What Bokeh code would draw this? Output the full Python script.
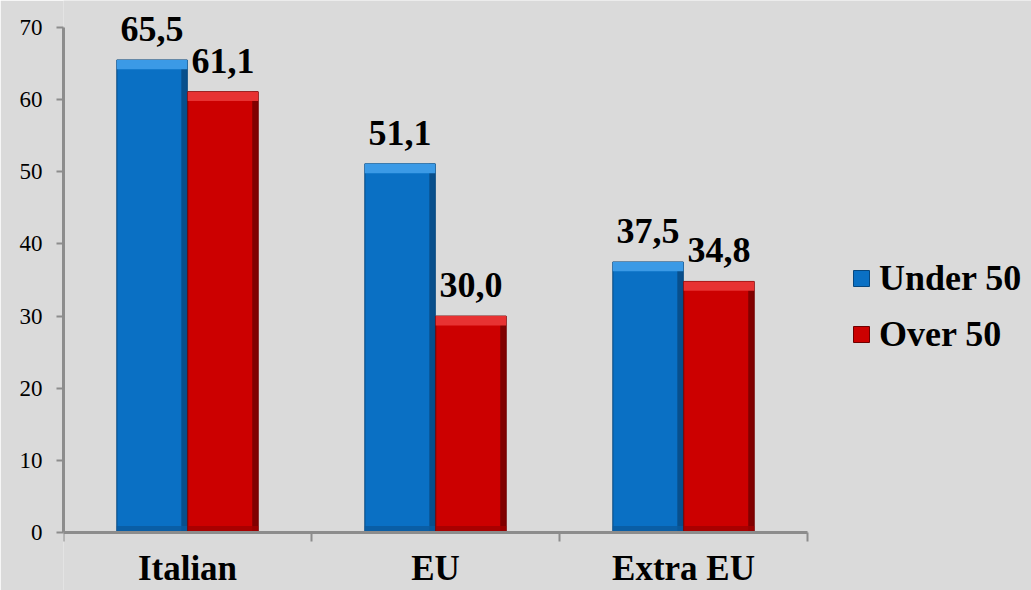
import numpy as np
from bokeh.plotting import figure
from bokeh.models import Range1d, FixedTicker, Legend, LegendItem, ColumnDataSource
from bokeh.embed import file_html
from bokeh.resources import INLINE

categories = ["Italian", "EU", "Extra EU"]
under_50 = [65.5, 51.1, 37.5]
over_50 = [61.1, 30.0, 34.8]
series_names = ["Under 50", "Over 50"]
y_ticks = [0, 10, 20, 30, 40, 50, 60, 70]

BG = "#dadada"
FONT = "Liberation Serif"
AXIS_C = "#8c8c8c"

W, H = 1031, 590
LEFT, AXIS_RIGHT = 63, 807
AXIS_TOP, AXIS_BOTTOM = 27, 532
Y_MAX = 70
n = len(categories)
# frame spans the whole canvas right of the y axis; axes limited by bounds / fixed location
x_end = n * (W - LEFT) / (AXIS_RIGHT - LEFT)
px_per_unit = (AXIS_BOTTOM - AXIS_TOP) / Y_MAX
y_end = AXIS_BOTTOM / px_per_unit
y_start = -(H - AXIS_BOTTOM) / px_per_unit

p = figure(width=W, height=H, output_backend="svg", toolbar_location=None,
           x_range=Range1d(0, x_end), y_range=Range1d(y_start, y_end))
p.min_border_left = LEFT
p.min_border_right = 0
p.min_border_top = 0
p.min_border_bottom = 0
p.background_fill_color = BG
p.border_fill_color = BG
p.outline_line_color = None
p.xgrid.visible = False
p.ygrid.visible = False

centers = np.arange(n) + 0.5
bw = 0.284
offset = 0.143

styles = [
    dict(vals=under_50, dx=-offset, main="#0a70c4", light="#3b9ae6", dark="#07477e", bottom="#0a5a9e"),
    dict(vals=over_50, dx=offset, main="#cc0000", light="#e73232", dark="#6e0000", bottom="#a00000"),
]

renderers = []
for s, name in zip(styles, series_names):
    xs = centers + s["dx"]
    vals = np.array(s["vals"])
    src = ColumnDataSource(dict(x=xs, top=vals))
    r = p.vbar(x="x", top="top", bottom=0, width=bw, source=src,
               fill_color=s["main"], line_color=s["dark"], line_width=1)
    renderers.append(r)
    # bevel: right edge darker
    p.vbar(x=xs + bw / 2 - 0.012, top=vals, bottom=0, width=0.024,
           fill_color=s["dark"], fill_alpha=0.8, line_color=None)
    # bevel: top lighter band
    p.vbar(x=xs, top=vals, bottom=vals - 1.3, width=bw,
           fill_color=s["light"], line_color=None)
    # bevel: bottom darker band
    p.vbar(x=xs, top=0.9, bottom=0, width=bw,
           fill_color=s["bottom"], fill_alpha=0.8, line_color=None)
    labels = [f"{v:.1f}".replace(".", ",") for v in vals]
    p.text(x=xs, y=vals, text=labels, text_align="center", text_baseline="alphabetic",
           y_offset=-31, text_font_size="36px", text_font_style="bold",
           text_color="black", text_font={"value": FONT})

# x axis (drawn at y = 0)
xa = p.xaxis[0]
xa.fixed_location = 0
xa.bounds = (0, n)
xa.ticker = FixedTicker(ticks=list(centers), minor_ticks=list(range(n + 1)))
xa.major_label_overrides = {float(c): cat for c, cat in zip(centers, categories)}
xa.major_tick_line_color = None
xa.major_tick_out = 0
xa.major_tick_in = 0
xa.minor_tick_line_color = AXIS_C
xa.minor_tick_line_width = 2
xa.minor_tick_out = 9
xa.minor_tick_in = 0
xa.axis_line_color = AXIS_C
xa.axis_line_width = 3
xa.major_label_standoff = 7
xa.major_label_text_font = FONT
xa.major_label_text_font_size = "35px"
xa.major_label_text_font_style = "bold"
xa.major_label_text_color = "black"

ya = p.yaxis[0]
ya.bounds = (0, Y_MAX)
ya.ticker = FixedTicker(ticks=y_ticks, minor_ticks=[])
ya.major_tick_line_color = AXIS_C
ya.major_tick_line_width = 2
ya.major_tick_out = 7
ya.major_tick_in = 0
ya.minor_tick_line_color = None
ya.axis_line_color = AXIS_C
ya.axis_line_width = 3
ya.major_label_standoff = 14
ya.major_label_text_font = FONT
ya.major_label_text_font_size = "23px"
ya.major_label_text_color = "black"

legend = Legend(items=[LegendItem(label=nm, renderers=[r]) for nm, r in zip(series_names, renderers)],
                location=(788, 177 + (H - AXIS_BOTTOM)), orientation="vertical")
legend.background_fill_alpha = 0
legend.border_line_color = None
legend.label_text_font = FONT
legend.label_text_font_size = "36px"
legend.label_text_font_style = "bold"
legend.label_text_color = "black"
legend.glyph_width = 20
legend.glyph_height = 20
legend.label_standoff = 8
legend.spacing = 14
legend.padding = 0
legend.margin = 0
p.add_layout(legend, "center")

open("out.html", "w").write(file_html(p, INLINE))
